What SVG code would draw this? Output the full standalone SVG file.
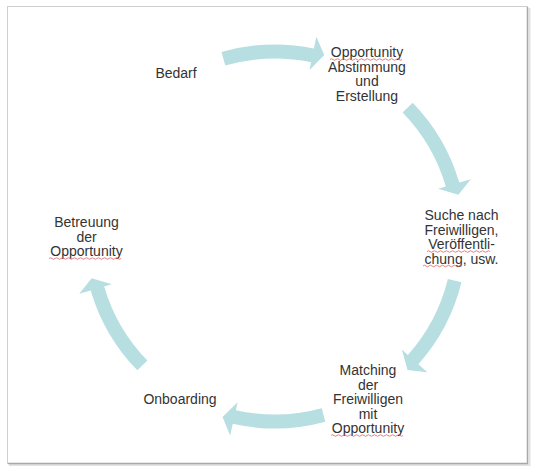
<svg xmlns="http://www.w3.org/2000/svg" width="536" height="473" viewBox="0 0 536 473">
<style>
.lbl{font-family:"Liberation Sans",Arial,sans-serif;font-size:14px;fill:#333;text-anchor:middle}
.arr{fill:#b7dee1}
.sq{fill:none;stroke:#e06060;stroke-width:0.8}
</style>
<defs>
<path id="arrowShape" d="M -53.57 -184.38 A 192 192 0 0 1 38.94 -188.01 L 41.37 -199.76 L 49.29 -181.42 L 34.48 -166.46 L 36.10 -174.30 A 178 178 0 0 0 -49.66 -170.93 Z"/>
</defs>
<rect width="536" height="473" fill="#fff"/>
<g id="frame">
<line x1="9" y1="465" x2="530" y2="465" stroke="#e2e2e2" stroke-width="2"/>
<line x1="529.5" y1="8" x2="529.5" y2="466" stroke="#e2e2e2" stroke-width="2"/>
<rect x="7.5" y="6.5" width="520" height="457" fill="#fff" stroke="#cfcfcf" stroke-width="1"/>
<line x1="8" y1="463.5" x2="528" y2="463.5" stroke="#a8a8a8" stroke-width="1.5"/>
<line x1="527.5" y1="7" x2="527.5" y2="464" stroke="#a8a8a8" stroke-width="1.5"/>
</g>
<g id="connectors">
<use href="#arrowShape" class="arr" transform="translate(275 236.5) rotate(0)"/>
<use href="#arrowShape" class="arr" transform="translate(275 236.5) rotate(62)"/>
<use href="#arrowShape" class="arr" transform="translate(275 236.5) rotate(120)"/>
<use href="#arrowShape" class="arr" transform="translate(275 236.5) rotate(181)"/>
<use href="#arrowShape" class="arr" transform="translate(275 236.5) rotate(242)"/>
</g>
<g id="bedarf">
<text class="lbl" x="176" y="78">Bedarf</text>
</g>
<g id="opportunity-abstimmung">
<text class="lbl" x="367" y="57">Opportunity</text>
<text class="lbl" x="367" y="71.5">Abstimmung</text>
<text class="lbl" x="367" y="86">und</text>
<text class="lbl" x="367" y="100.5">Erstellung</text>
<path class="sq" d="M330 59.5 q1.5 -1.5 3 0 t3 0 t3 0 t3 0 t3 0 t3 0 t3 0 t3 0 t3 0 t3 0 t3 0 t3 0 t3 0 t3 0 t3 0 t3 0 t3 0 t3 0 t3 0 t3 0 t3 0 t3 0 t3 0 t3 0"/>
</g>
<g id="suche">
<text class="lbl" x="461.5" y="220">Suche nach</text>
<text class="lbl" x="461.5" y="234.5">Freiwilligen,</text>
<text class="lbl" x="461.5" y="249">Veröffentli-</text>
<text class="lbl" x="461.5" y="263.5">chung, usw.</text>
<path class="sq" d="M427 251.5 q1.5 -1.5 3 0 t3 0 t3 0 t3 0 t3 0 t3 0 t3 0 t3 0 t3 0 t3 0 t3 0 t3 0 t3 0 t3 0 t3 0 t3 0 t3 0 t3 0 t3 0 t3 0 t3 0"/>
<path class="sq" d="M423 266 q1.5 -1.5 3 0 t3 0 t3 0 t3 0 t3 0 t3 0 t3 0 t3 0 t3 0 t3 0 t3 0 t3 0 t3 0"/>
</g>
<g id="matching">
<text class="lbl" x="368" y="375">Matching</text>
<text class="lbl" x="368" y="389.5">der</text>
<text class="lbl" x="368" y="404">Freiwilligen</text>
<text class="lbl" x="368" y="418.5">mit</text>
<text class="lbl" x="368" y="433">Opportunity</text>
<path class="sq" d="M331 435.5 q1.5 -1.5 3 0 t3 0 t3 0 t3 0 t3 0 t3 0 t3 0 t3 0 t3 0 t3 0 t3 0 t3 0 t3 0 t3 0 t3 0 t3 0 t3 0 t3 0 t3 0 t3 0 t3 0 t3 0 t3 0 t3 0"/>
</g>
<g id="onboarding">
<text class="lbl" x="180" y="404">Onboarding</text>
</g>
<g id="betreuung">
<text class="lbl" x="86.5" y="227">Betreuung</text>
<text class="lbl" x="86.5" y="241.5">der</text>
<text class="lbl" x="86.5" y="256">Opportunity</text>
<path class="sq" d="M49 258.5 q1.5 -1.5 3 0 t3 0 t3 0 t3 0 t3 0 t3 0 t3 0 t3 0 t3 0 t3 0 t3 0 t3 0 t3 0 t3 0 t3 0 t3 0 t3 0 t3 0 t3 0 t3 0 t3 0 t3 0 t3 0 t3 0"/>
</g>
</svg>
